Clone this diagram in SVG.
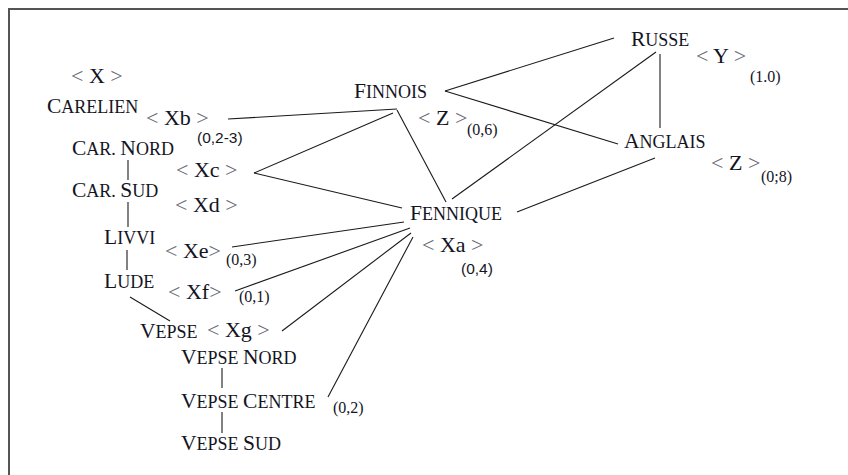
<svg xmlns="http://www.w3.org/2000/svg" width="848" height="475" viewBox="0 0 848 475">
<style>
.t { font-family: "Liberation Serif", "Times New Roman", serif; fill: #14141f; }
.b { font-size: 21.5px; }
.s { font-size: 18px; }
.l { font-size: 22px; }
.a { fill: #6a6a78; }
.n { font-size: 16px; }
.ns { font-family: "Liberation Sans", Arial, sans-serif; font-size: 15.5px; fill: #14141f; }
.c line { stroke: #1a1a1a; stroke-width: 1.1; }
.frame { stroke: #555; stroke-width: 2; fill: none; }
</style>
<rect width="848" height="475" fill="#fff"/>
<polyline class="frame" points="9,475 9,9 848,9"/>

<g id="connectors" class="c">
<line x1="228" y1="119" x2="397" y2="109"/>
<line x1="393" y1="113" x2="254" y2="173"/>
<line x1="397" y1="110" x2="446" y2="202"/>
<line x1="254" y1="173" x2="402" y2="208"/>
<line x1="445" y1="91" x2="614" y2="38"/>
<line x1="445" y1="91" x2="618" y2="144"/>
<line x1="660" y1="54" x2="660" y2="128"/>
<line x1="452" y1="199" x2="656" y2="52"/>
<line x1="517" y1="212" x2="655" y2="158"/>
<line x1="232" y1="247" x2="404" y2="222"/>
<line x1="235" y1="291" x2="410" y2="228"/>
<line x1="282" y1="331" x2="411" y2="233"/>
<line x1="328" y1="397" x2="413" y2="237"/>
<line x1="128" y1="160" x2="128" y2="180"/>
<line x1="128" y1="202" x2="128" y2="227"/>
<line x1="127" y1="250" x2="127" y2="270"/>
<line x1="130" y1="297" x2="170" y2="321"/>
<line x1="222" y1="368" x2="222" y2="388"/>
<line x1="222" y1="412" x2="222" y2="433"/>
</g>

<g id="x-label"><text class="t l" x="71" y="83"><tspan class="a">&lt;</tspan> X <tspan class="a">&gt;</tspan></text></g>

<g id="carelien">
<text class="t" x="47" y="113"><tspan class="b">C</tspan><tspan class="s">ARELIEN</tspan></text>
<text class="t l" x="146" y="125"><tspan class="a">&lt;</tspan> Xb <tspan class="a">&gt;</tspan></text>
<text class="ns" x="197" y="143">(0,2-3)</text>
</g>

<g id="car-nord">
<text class="t" x="72" y="155"><tspan class="b">C</tspan><tspan class="s">AR. </tspan><tspan class="b">N</tspan><tspan class="s">ORD</tspan></text>
<text class="t l" x="176" y="177"><tspan class="a">&lt;</tspan> Xc <tspan class="a">&gt;</tspan></text>
</g>

<g id="car-sud">
<text class="t" x="72" y="197"><tspan class="b">C</tspan><tspan class="s">AR. </tspan><tspan class="b">S</tspan><tspan class="s">UD</tspan></text>
<text class="t l" x="175" y="212"><tspan class="a">&lt;</tspan> Xd <tspan class="a">&gt;</tspan></text>
</g>

<g id="livvi">
<text class="t" x="104" y="244"><tspan class="b">L</tspan><tspan class="s">IVVI</tspan></text>
<text class="t l" x="165" y="258"><tspan class="a">&lt;</tspan> Xe<tspan class="a">&gt;</tspan></text>
<text class="t n" x="226" y="265">(0,3)</text>
</g>

<g id="lude">
<text class="t" x="104" y="288"><tspan class="b">L</tspan><tspan class="s">UDE</tspan></text>
<text class="t l" x="168" y="299"><tspan class="a">&lt;</tspan> Xf<tspan class="a">&gt;</tspan></text>
<text class="t n" x="239" y="302">(0,1)</text>
</g>

<g id="vepse">
<text class="t" x="140" y="338"><tspan class="b">V</tspan><tspan class="s">EPSE</tspan></text>
<text class="t l" x="207" y="337"><tspan class="a">&lt;</tspan> Xg <tspan class="a">&gt;</tspan></text>
</g>

<g id="vepse-nord">
<text class="t" x="181" y="364"><tspan class="b">V</tspan><tspan class="s">EPSE </tspan><tspan class="b">N</tspan><tspan class="s">ORD</tspan></text>
</g>

<g id="vepse-centre">
<text class="t" x="181" y="408"><tspan class="b">V</tspan><tspan class="s">EPSE </tspan><tspan class="b">C</tspan><tspan class="s">ENTRE</tspan></text>
<text class="t n" x="333" y="413">(0,2)</text>
</g>

<g id="vepse-sud">
<text class="t" x="181" y="450"><tspan class="b">V</tspan><tspan class="s">EPSE </tspan><tspan class="b">S</tspan><tspan class="s">UD</tspan></text>
</g>

<g id="finnois">
<text class="t" x="354" y="98"><tspan class="b">F</tspan><tspan class="s">INNOIS</tspan></text>
<text class="t l" x="418" y="125"><tspan class="a">&lt;</tspan> Z <tspan class="a">&gt;</tspan></text>
<text class="t n" x="467" y="135">(0,6)</text>
</g>

<g id="fennique">
<text class="t" x="410" y="220"><tspan class="b">F</tspan><tspan class="s">ENNIQUE</tspan></text>
<text class="t l" x="422" y="252"><tspan class="a">&lt;</tspan> Xa <tspan class="a">&gt;</tspan></text>
<text class="ns" x="461" y="274">(0,4)</text>
</g>

<g id="russe">
<text class="t" x="631" y="46"><tspan class="b">R</tspan><tspan class="s">USSE</tspan></text>
<text class="t l" x="696" y="63"><tspan class="a">&lt;</tspan> Y <tspan class="a">&gt;</tspan></text>
<text class="t n" x="750" y="82">(1.0)</text>
</g>

<g id="anglais">
<text class="t" x="624" y="148"><tspan class="b">A</tspan><tspan class="s">NGLAIS</tspan></text>
<text class="t l" x="711" y="170"><tspan class="a">&lt;</tspan> Z <tspan class="a">&gt;</tspan></text>
<text class="t n" x="761" y="182">(0;8)</text>
</g>
</svg>
